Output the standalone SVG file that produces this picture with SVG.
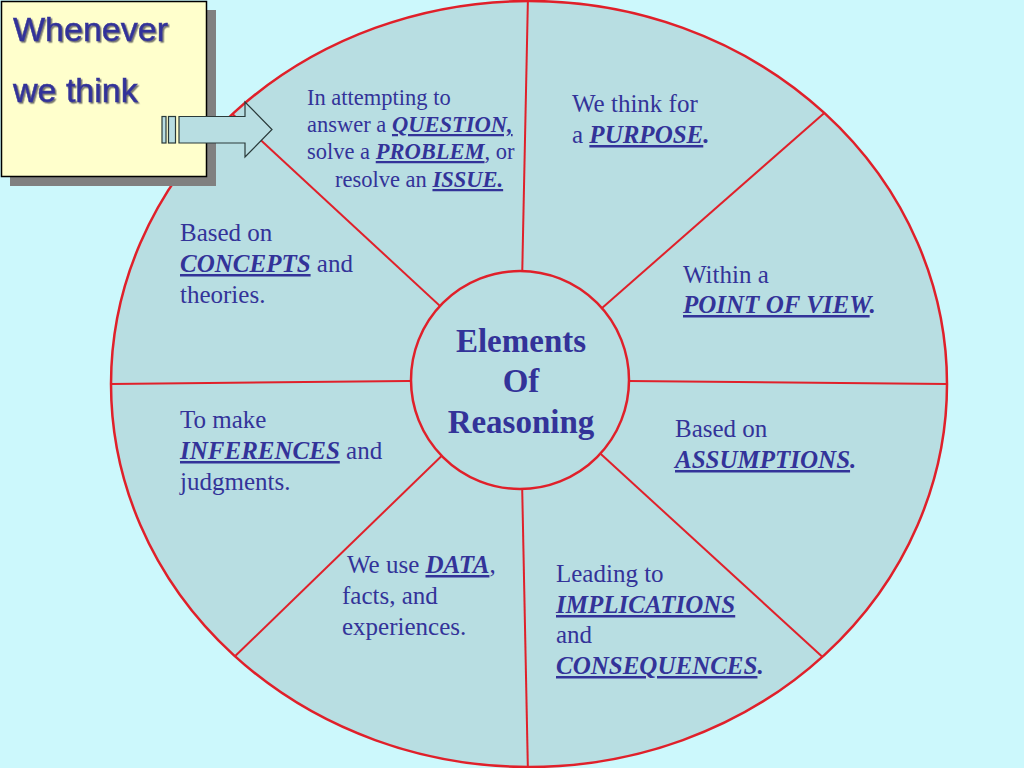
<svg xmlns="http://www.w3.org/2000/svg" width="1024" height="768" viewBox="0 0 1024 768">
<style>
.lbl{font-family:"Liberation Serif","Times New Roman",serif;font-size:25px;fill:#333399}
.q{font-size:22.5px}
.k{font-weight:bold;font-style:italic;text-decoration:underline}
.b{font-weight:bold;font-style:italic}
.spoke{stroke:#E0202A;stroke-width:2;fill:none}
.ctr{font-family:"Liberation Serif","Times New Roman",serif;font-size:33px;font-weight:bold;fill:#333399;text-anchor:middle}
.box{font-family:"Liberation Sans",Arial,sans-serif;font-size:34px;fill:#333399;stroke:#333399;stroke-width:0.5}
</style>
<defs>
<clipPath id="ec"><ellipse cx="529" cy="384" rx="418" ry="383"/></clipPath>
<filter id="ts" x="-10%" y="-10%" width="130%" height="130%"><feDropShadow dx="1.5" dy="1.5" stdDeviation="0.6" flood-color="#666666" flood-opacity="0.9"/></filter>
</defs>
<rect x="0" y="0" width="1024" height="768" fill="#CCF8FC"/>
<g id="wheel">
<ellipse cx="529" cy="384" rx="418" ry="383" fill="#B8DEE2" stroke="#E0202A" stroke-width="2.5"/>
</g>
<g id="connectors" clip-path="url(#ec)">
<line class="spoke" x1="520" y1="380" x2="528" y2="-5"/>
<line class="spoke" x1="520" y1="380" x2="830" y2="108"/>
<line class="spoke" x1="520" y1="380" x2="955" y2="384"/>
<line class="spoke" x1="520" y1="380" x2="828" y2="662"/>
<line class="spoke" x1="520" y1="380" x2="528" y2="775"/>
<line class="spoke" x1="520" y1="380" x2="229" y2="662"/>
<line class="spoke" x1="520" y1="380" x2="100" y2="384"/>
<line class="spoke" x1="520" y1="380" x2="226" y2="108"/>
</g>
<g id="center">
<circle cx="520" cy="380" r="109" fill="#B8DEE2" stroke="#E0202A" stroke-width="2.5"/>
<text class="ctr" x="521" y="352">Elements</text>
<text class="ctr" x="521" y="392">Of</text>
<text class="ctr" x="521" y="433">Reasoning</text>
</g>
<g id="question">
<text class="lbl q" x="307" y="105">In attempting to</text>
<text class="lbl q" x="307" y="132">answer a <tspan class="k">QUESTION,</tspan></text>
<text class="lbl q" x="307" y="159">solve a <tspan class="k">PROBLEM</tspan>, or</text>
<text class="lbl q" x="335" y="187">resolve an <tspan class="k">ISSUE.</tspan></text>
</g>
<g id="purpose">
<text class="lbl" x="572" y="112">We think for</text>
<text class="lbl" x="572" y="143">a <tspan class="k">PURPOSE</tspan><tspan class="b">.</tspan></text>
</g>
<g id="pointofview">
<text class="lbl" x="683" y="283">Within a</text>
<text class="lbl" x="683" y="313"><tspan class="k">POINT OF VIEW</tspan><tspan class="b">.</tspan></text>
</g>
<g id="assumptions">
<text class="lbl" x="675" y="437">Based on</text>
<text class="lbl" x="675" y="468"><tspan class="k">ASSUMPTIONS</tspan><tspan class="b">.</tspan></text>
</g>
<g id="implications">
<text class="lbl" x="556" y="582">Leading to</text>
<text class="lbl" x="556" y="613"><tspan class="k">IMPLICATIONS</tspan></text>
<text class="lbl" x="556" y="643">and</text>
<text class="lbl" x="556" y="674"><tspan class="k">CONSEQUENCES</tspan><tspan class="b">.</tspan></text>
</g>
<g id="data">
<text class="lbl" x="347" y="573">We use <tspan class="k">DATA</tspan>,</text>
<text class="lbl" x="342" y="604">facts, and</text>
<text class="lbl" x="342" y="635">experiences.</text>
</g>
<g id="inferences">
<text class="lbl" x="180" y="428">To make</text>
<text class="lbl" x="180" y="459"><tspan class="k">INFERENCES</tspan> and</text>
<text class="lbl" x="180" y="490">judgments.</text>
</g>
<g id="concepts">
<text class="lbl" x="180" y="241">Based on</text>
<text class="lbl" x="180" y="272"><tspan class="k">CONCEPTS</tspan> and</text>
<text class="lbl" x="180" y="303">theories.</text>
</g>
<g id="whenever">
<rect x="10" y="10" width="206" height="176" fill="#808080"/>
<rect x="1.5" y="1.5" width="205" height="175" fill="#FFFFCC" stroke="#000000" stroke-width="1.5"/>
<text class="box" x="13" y="41" filter="url(#ts)">Whenever</text>
<text class="box" x="13" y="102" filter="url(#ts)">we think</text>
</g>
<g id="arrow" fill="#B8DEE2" stroke="#2a3a3a" stroke-width="1.2">
<rect x="162" y="116.5" width="4" height="26.5"/>
<rect x="168.5" y="116.5" width="7" height="26.5"/>
<polygon points="179,116.5 245,116.5 245,102 272,129.5 245,157 245,143 179,143"/>
</g>
</svg>
